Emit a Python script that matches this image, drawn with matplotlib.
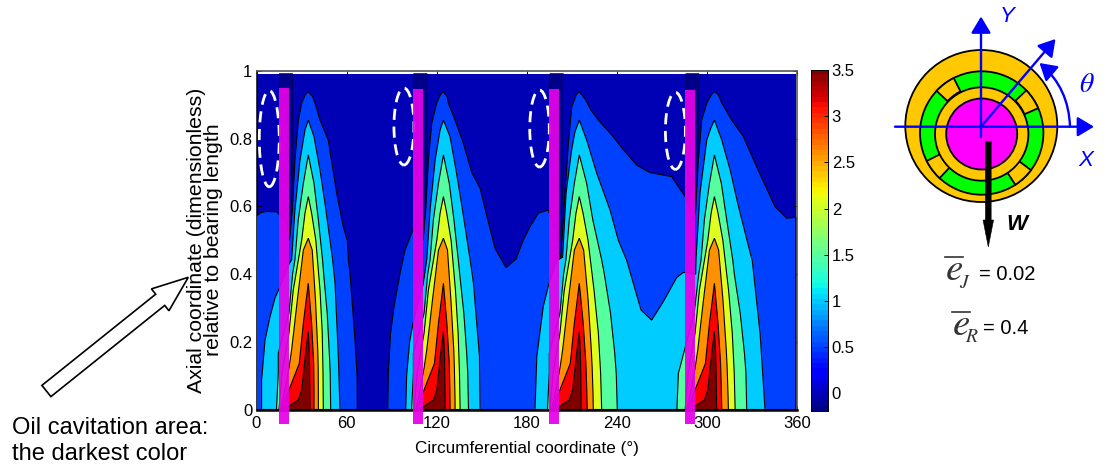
"""Pressure map of a bearing film with the bearing sketch next to it."""

import numpy as np
import matplotlib
matplotlib.use("Agg")
import matplotlib.pyplot as plt
from matplotlib.patches import Circle, Ellipse, FancyArrow, FancyArrowPatch, Rectangle, Wedge

plt.rcParams["font.family"] = ["Liberation Sans", "DejaVu Sans"]
plt.rcParams["mathtext.fontset"] = "stix"

# colours of the filled levels, lowest first
level_colors = ["#00008C", "#0000B4", "#0040FF", "#00CCFF", "#55FFA0",
                "#DFFF20", "#FF9000", "#FF0000", "#800000"]

# peak position of each lobe (deg)
lobe_peaks = [34.5, 124.5, 215.0, 305.0]

# inner contours: heights, left offset from the peak, right offset per lobe (deg)
green_z = [0, .107, .166, .284, .402, .442, .56, .668, .752]
green_left = [-21.2, -20, -20, -12.9, -10.4, -8.9, -6.7, -3.3, 0]
green_left_last = [-25, -24, -20.5, -13.5, -10.4, -8.9, -6.7, -3.3, 0]
green_right = [[14.9, 14.6, 14, 12.6, 10.2, 9.5, 6.7, 3.8, 0],
               [16.7, 16.2, 15.5, 13.6, 10.8, 9.9, 7, 3.9, 0],
               [25.3, 24.6, 23.6, 20.8, 16.6, 14.9, 9, 4.9, 0],
               [21.5, 21, 20, 17.2, 13.2, 12.2, 8.2, 4.6, 0]]

yellow_z = [0, .107, .225, .353, .5, .58, .629]
yellow_left = [-19.5, -17.5, -12.9, -10, -4.4, -2.2, 0]
yellow_right = [[10, 9.8, 9.3, 7.8, 5, 2.2, 0],
                [11.1, 10.7, 9.8, 8, 5.1, 2.2, 0],
                [14.9, 14.2, 12.7, 9.8, 5.8, 2.5, 0],
                [13.8, 13.2, 11.9, 9.4, 5.6, 2.4, 0]]

orange_z = [0, .038, .122, .176, .323, .471, .506]
orange_left = [-18.5, -16.5, -12.9, -11.1, -7.3, -3.3, 0]
orange_right = [[6.7, 6.7, 6.6, 6.3, 4.8, 2.6, 0],
                [7.8, 7.7, 7.3, 6.9, 5, 2.7, 0],
                [9.3, 9.2, 8.6, 8, 5.9, 2.9, 0],
                [9.3, 9.1, 8.5, 7.9, 5.7, 2.8, 0]]

red_z = [0, .018, .058, .136, .255, .373]
red_left = [-17.5, -16.5, -12.9, -6, -3.3, 0]
red_right = [[3.8, 3.8, 3.8, 3.6, 2.2, 0],
             [4.4, 4.4, 4.3, 3.9, 2.3, 0],
             [5.3, 5.2, 5, 4.4, 2.6, 0],
             [4.9, 4.8, 4.6, 4.1, 2.4, 0]]

dred_z = [0, .010, .028, .058, .107, .166, .23]
dred_left = [-15.5, -12.9, -6.7, -4.4, -3.2, -1.8, 0]
dred_right = [[1.1, 1.1, 1.1, 1, .9, .7, 0],
              [1.1, 1.1, 1.1, 1, .9, .7, 0],
              [1.2, 1.2, 1.2, 1.1, 1, .7, 0],
              [1.5, 1.5, 1.4, 1.3, 1.1, .8, 0]]

# outer contours, read as (theta, z)
blue_left = [(0, 0), (0, .572), (3, .582), (6.8, .585), (13.4, .584), (19, .56), (22, .5), (23.9, .589),
             (25.6, .737), (27.9, .855), (30.1, .905), (32.5, .93), (34.5, .939), (37.4, .924), (39, .905),
             (42.3, .855), (47.8, .796), (53.4, .639), (57.8, .54), (60.5, .5), (61.2, .442),
             (62.3, .402), (65.6, .205), (67, .1), (67.2, 0)]
blue_rest = [(87.4, 0), (87.8, .107), (89.3, .225), (91.6, .304), (95.6, .402), (98.9, .471),
             (104.2, .53), (108, .52), (111, .5), (112.7, .589), (114.5, .737), (116.7, .845),
             (120, .905), (122.5, .93), (124.4, .939), (127, .924), (127.8, .905), (132.2, .855),
             (137.8, .786), (143.4, .70), (148.9, .654), (153.3, .574), (158.9, .476), (166.2, .419),
             (172.8, .444), (177.7, .50), (182.2, .54), (187.7, .58), (194.3, .589), (200, .52),
             (202.6, .44), (205.5, .639), (207.7, .786), (210, .894), (213, .93), (215, .939),
             (219.4, .914), (222.7, .885), (227.7, .855), (236.6, .811), (244.4, .767), (253.2, .722),
             (262, .70), (276.5, .688), (281, .658), (285.5, .629), (291, .56), (292.5, .589),
             (294.3, .737), (296.5, .855), (299.9, .905), (303, .93), (305, .939), (307.7, .929),
             (309.9, .905), (313.2, .88), (316.5, .855), (324.3, .806), (333.1, .717), (345.4, .599),
             (353.2, .565), (359.2, .568), (359.2, 0)]
cyan_one = [(3.4, 0), (3.4, .087), (5.7, .205), (9, .274), (12.3, .329), (15.2, .358), (21.7, .43),
            (23.4, .442), (25.6, .589), (29, .737), (32.3, .826), (34.5, .855), (38.3, .806),
            (42.3, .707), (45.6, .609), (50.7, .442), (52.3, .373), (54.5, .156), (55.6, 0)]
cyan_two = [(99.4, 0), (100, .1), (102, .2), (104.5, .26), (111, .37), (113.4, .442), (115.6, .589),
            (119, .737), (122.3, .826), (124.5, .855), (128.9, .806), (132.9, .707), (136.5, .609),
            (142.3, .442), (144.5, .373), (148.5, .157), (148.9, 0)]
cyan_rest = [(185.5, 0), (186.7, .156), (191, .304), (194.8, .372), (200, .44), (203.9, .45),
             (206.2, .639), (209.9, .767), (212.1, .82), (215, .855), (219.9, .796), (226.6, .698),
             (235.5, .589), (241, .5), (246.6, .44), (256.1, .294), (263.2, .264), (271, .319),
             (279.9, .39), (284.3, .405), (292.5, .40), (292.8, .45), (295.4, .639), (299.9, .796),
             (302.5, .83), (305, .855), (309.9, .796), (315.5, .707), (321, .6), (329, .46),
             (330.2, .44), (335.4, .225), (338.7, 0)]

# darkest strips at the top of each oil groove: left edge, right edge (deg)
strip_left = [15.2, 104.7, 195.5, 286.0]
strip_right = [24.1, 113.6, 204.4, 294.6]

# magenta pads: left edge, right edge, top (deg, deg, z)
pad_left = [15.2, 104.2, 194.8, 285.4]
pad_right = [21.6, 110.9, 201.5, 292.0]
pad_top = [.951, .947, .947, .944]
pad_bottom = -.042

# dashed marks: centre theta, centre z, width, height
mark_theta = [8.5, 98.2, 188.5, 279.0]
mark_z = [.80, .836, .83, .823]
mark_w = [13.3, 13.3, 13.0, 13.3]
mark_h = [.284, .2275, .2275, .2275]

x_ticks = [0, 60, 120, 180, 240, 300, 360]
y_ticks = [0, .2, .4, .6, .8, 1]
y_tick_labels = ["0", "0.2", "0.4", "0.6", "0.8", "1"]
bar_ticks = [0, .5, 1, 1.5, 2, 2.5, 3, 3.5]
bar_tick_labels = ["0", "0.5", "1", "1.5", "2", "2.5", "3", "3.5"]
bar_min, bar_max = -.19, 3.5

# roller angles in the sketch (deg)
roller_angles = [33.7, 127, 217, 313]


def px_axes(fig, left, top, right, bottom):
    W, H = fig.get_size_inches() * fig.dpi
    return fig.add_axes([left / W, 1 - bottom / H, (right - left) / W, (bottom - top) / H])


def lobe_outline(peak, z, left, right):
    """Closed outline of one contour from its heights and offsets."""
    th = [peak + v for v in left] + [peak + v for v in right[::-1][1:]]
    zz = list(z) + list(z[::-1][1:])
    return th, zz


def fill_level(ax, th, z, color, order):
    ax.fill(th, z, facecolor=color, edgecolor="black", linewidth=0.8, zorder=order)


fig = plt.figure(figsize=(11.07, 4.71), dpi=100, facecolor="white")

# ------------------------------------------------------------------
# Contour map
# ------------------------------------------------------------------
ax = px_axes(fig, 256.5, 71, 797.0, 409.5)
ax.set_xlim(0, 360)
ax.set_ylim(0, 1)

ax.add_patch(Rectangle((0, 0), 359.2, .992, facecolor=level_colors[1], edgecolor="none", zorder=1))
for sl, sr in zip(strip_left, strip_right):
    ax.fill([sl, sr, sr, sr - 2, sl], [.992, .992, .7, .5, .5], facecolor=level_colors[0],
            edgecolor="#000050", linewidth=0.6, zorder=2)

for outline in (blue_left, blue_rest):
    fill_level(ax, [p[0] for p in outline], [p[1] for p in outline], level_colors[2], 3)
for outline in (cyan_one, cyan_two, cyan_rest):
    fill_level(ax, [p[0] for p in outline], [p[1] for p in outline], level_colors[3], 4)

for i, peak in enumerate(lobe_peaks):
    g_left = green_left_last if i == 3 else green_left
    fill_level(ax, *lobe_outline(peak, green_z, g_left, green_right[i]), level_colors[4], 5)
    fill_level(ax, *lobe_outline(peak, yellow_z, yellow_left, yellow_right[i]), level_colors[5], 6)
    fill_level(ax, *lobe_outline(peak, orange_z, orange_left, orange_right[i]), level_colors[6], 7)
    fill_level(ax, *lobe_outline(peak, red_z, red_left, red_right[i]), level_colors[7], 8)
    fill_level(ax, *lobe_outline(peak, dred_z, dred_left, dred_right[i]), level_colors[8], 9)

for tx, tz, tw, th in zip(mark_theta, mark_z, mark_w, mark_h):
    ax.add_patch(Ellipse((tx, tz), tw, th, fill=False, edgecolor="white", linewidth=2.0,
                         linestyle=(0, (4, 2.4)), zorder=10))

for pl, pr, pt in zip(pad_left, pad_right, pad_top):
    ax.add_patch(Rectangle((pl, pad_bottom), pr - pl, pt - pad_bottom, facecolor="#E600E8",
                           edgecolor="none", alpha=.93, clip_on=False, zorder=12))

ax.set_xticks(x_ticks)
ax.set_yticks(y_ticks)
ax.set_yticklabels(y_tick_labels)
ax.tick_params(direction="in", length=3, width=.7, top=True, right=True, labelsize=12)
ax.tick_params(axis="y", pad=3)
ax.tick_params(axis="x", pad=5)
for side in ("top", "right"):
    ax.spines[side].set_color("#555555")
    ax.spines[side].set_linewidth(1.2)
ax.spines["left"].set_linewidth(1.1)
ax.spines["bottom"].set_linewidth(1.8)

# ------------------------------------------------------------------
# Colour bar
# ------------------------------------------------------------------
cax = px_axes(fig, 811, 70, 827.5, 411)
steps = np.linspace(bar_min, bar_max, 65)
cax.pcolormesh([0, 1], steps, ((steps[:-1] + steps[1:]) / 2)[:, None], cmap="jet",
               vmin=bar_min, vmax=bar_max)
cax.set_xticks([])
cax.set_ylim(bar_min, bar_max)
cax.yaxis.tick_right()
cax.set_yticks(bar_ticks)
cax.set_yticklabels(bar_tick_labels)
cax.tick_params(direction="in", length=3, width=.7, pad=3, labelsize=12)
for sp in cax.spines.values():
    sp.set_linewidth(.7)

# ------------------------------------------------------------------
# Labels and sketch, placed in figure pixels
# ------------------------------------------------------------------
ov = fig.add_axes([0, 0, 1, 1], facecolor="none", zorder=20)
ov.set_xlim(0, 1107)
ov.set_ylim(471, 0)
ov.axis("off")

ov.text(527, 449, "Circumferential coordinate (\N{DEGREE SIGN})", ha="center", va="center",
        fontsize=12.3)
ov.text(205, 240, "Axial coordinate (dimensionless)\nrelative to bearing length", ha="center",
        va="center", rotation=90, fontsize=15.3, linespacing=.92)
ov.text(12.5, 434, "Oil cavitation area:", ha="left", va="baseline", fontsize=17)
ov.text(12.5, 460, "the darkest color", ha="left", va="baseline", fontsize=17)
ov.add_patch(FancyArrow(46.4, 391, 141.9, -113.7, width=14.4, head_width=28, head_length=36,
                        length_includes_head=True, facecolor="white", edgecolor="black",
                        linewidth=1.2))

# bearing sketch
race_xy = (981.3, 126.0)
cage_xy = (981.7, 133.0)
shaft_xy = (981.7, 134.0)
black = dict(edgecolor="black", linewidth=1.3)
ov.add_patch(Circle(race_xy, 76, facecolor="#FFC800", **black))
ov.add_patch(Circle(cage_xy, 61.7, facecolor="#00FF00", **black))
for ang in roller_angles:
    # the overlay y axis points down, so angles run the other way
    ov.add_patch(Wedge(cage_xy, 61.7, -ang - 10, -ang + 10, width=15, facecolor="#FFC800", **black))
ov.add_patch(Circle(shaft_xy, 46.7, facecolor="#FFC800", **black))
ov.add_patch(Circle(shaft_xy, 35.5, facecolor="#FF00FF", **black))


def blue_arrow(p, q, **kw):
    ov.add_patch(FancyArrowPatch(p, q, arrowstyle="-|>,head_length=10,head_width=6",
                                 color="#0000FF", linewidth=1.7, shrinkA=0, shrinkB=0,
                                 mutation_scale=1, **kw))


blue_arrow((895, 126.7), (1094, 126.7))
blue_arrow((981, 137), (981, 16.5))
blue_arrow((981, 126.7), (1055.5, 39))
blue_arrow((1070, 126.7), (1039.5, 63), connectionstyle="arc3,rad=0.22")

ov.text(1007, 16, "Y", color="#0000FF", style="italic", fontsize=16, ha="center", va="center")
ov.text(1086, 160, "X", color="#0000FF", style="italic", fontsize=16, ha="center", va="center")
ov.text(1087, 85, r"$\theta$", color="#0000FF", fontsize=20, ha="center", va="center")

ov.add_patch(FancyArrow(988.3, 141.5, 0, 105.5, width=5.7, head_width=10.5, head_length=27,
                        length_includes_head=True, facecolor="black", edgecolor="black",
                        linewidth=.4))
ov.text(1017, 225, "W", fontweight="bold", style="italic", fontsize=16, ha="center", va="center")

# eccentricity notes: letter, bar and subscript set apart as in the sketch
ov.text(954, 280, r"$e$", fontsize=28, ha="center", va="baseline", color="#333333")
ov.plot([945, 963], [257, 257], color="#333333", linewidth=1.2)
ov.text(964.5, 283, r"$J$", fontsize=14, ha="center", va="center", color="#333333")
ov.text(979, 275, "= 0.02", fontsize=14.5, ha="left", va="center")
ov.text(961, 335, r"$e$", fontsize=28, ha="center", va="baseline", color="#333333")
ov.plot([952, 970], [312, 312], color="#333333", linewidth=1.2)
ov.text(972, 337, r"$R$", fontsize=14, ha="center", va="center", color="#333333")
ov.text(983, 328, "= 0.4", fontsize=14.5, ha="left", va="center")

fig.savefig("out.png", dpi=100)
